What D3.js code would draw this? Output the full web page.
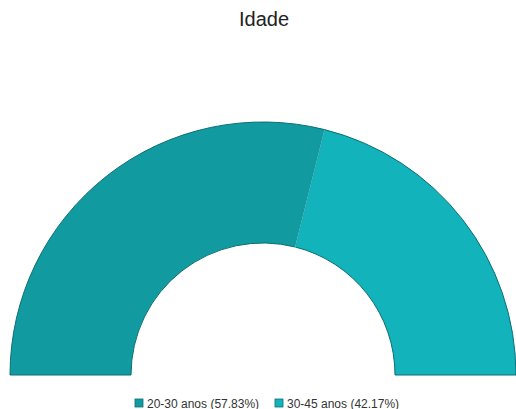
<!DOCTYPE html>
<html>
<head>
<meta charset="utf-8">
<script src="https://cdn.jsdelivr.net/npm/d3@7"></script>
<style>
body { margin:0; background:#fff; }
</style>
</head>
<body>
<script>
// Idade data
const labels = ["20-30 anos", "30-45 anos"];
const values = [57.83, 42.17];
const colors = ["#119ba1", "#12b3bb"];

const width = 516;
const height = 409;
const cx = 263, cy = 375;
const outerR = 253, innerR = 132;

const svg = d3.select("body")
.append("svg")
.attr("width", width)
.attr("height", height);

svg.append("text")
.attr("x", 264)
.attr("y", 26)
.attr("text-anchor","middle")
.attr("font-family","Arial, 'Liberation Sans', sans-serif")
.attr("font-size","20px")
.attr("fill","#222")
.text("Idade");

const data = labels.map(function(l,i){ return {label:l, value:values[i], color:colors[i]}; });

const pie = d3.pie()
.sort(null)
.value(function(d){ return d.value; })
.startAngle(-Math.PI/2)
.endAngle(Math.PI/2);

const arc = d3.arc()
.innerRadius(innerR)
.outerRadius(outerR);

const g = svg.append("g")
.attr("transform","translate("+cx+","+cy+")");

g.selectAll("path")
.data(pie(data))
.enter()
.append("path")
.attr("d", arc)
.attr("fill", function(d){ return d.data.color; })
.attr("stroke", "#0c6e74")
.attr("stroke-width", 1);

// redraw the boundary between slices lighter
g.selectAll("line.sep")
.data(pie(data).slice(1))
.enter()
.append("line")
.attr("class","sep")
.attr("x1", function(d){ return innerR*Math.sin(d.startAngle); })
.attr("y1", function(d){ return -innerR*Math.cos(d.startAngle); })
.attr("x2", function(d){ return outerR*Math.sin(d.startAngle); })
.attr("y2", function(d){ return -outerR*Math.cos(d.startAngle); })
.attr("stroke","#3cc3c9")
.attr("stroke-width",1);

// Legend
const legendX = [135, 275];
const legend = svg.selectAll("g.leg")
.data(data)
.enter()
.append("g")
.attr("class","leg")
.attr("transform", function(d,i){ return "translate("+legendX[i]+",399)"; });

legend.append("rect")
.attr("width", 8)
.attr("height", 8)
.attr("fill", function(d){ return d.color; })
.attr("stroke","#0c6e74")
.attr("stroke-width",0.8);

legend.append("text")
.attr("x", 12)
.attr("y", 8.5)
.attr("font-family","Arial, 'Liberation Sans', sans-serif")
.attr("font-size","12px")
.attr("fill","#333")
.text(function(d){ return d.label + " (" + d.value.toFixed(2) + "%)"; });
</script>
</body>
</html>
